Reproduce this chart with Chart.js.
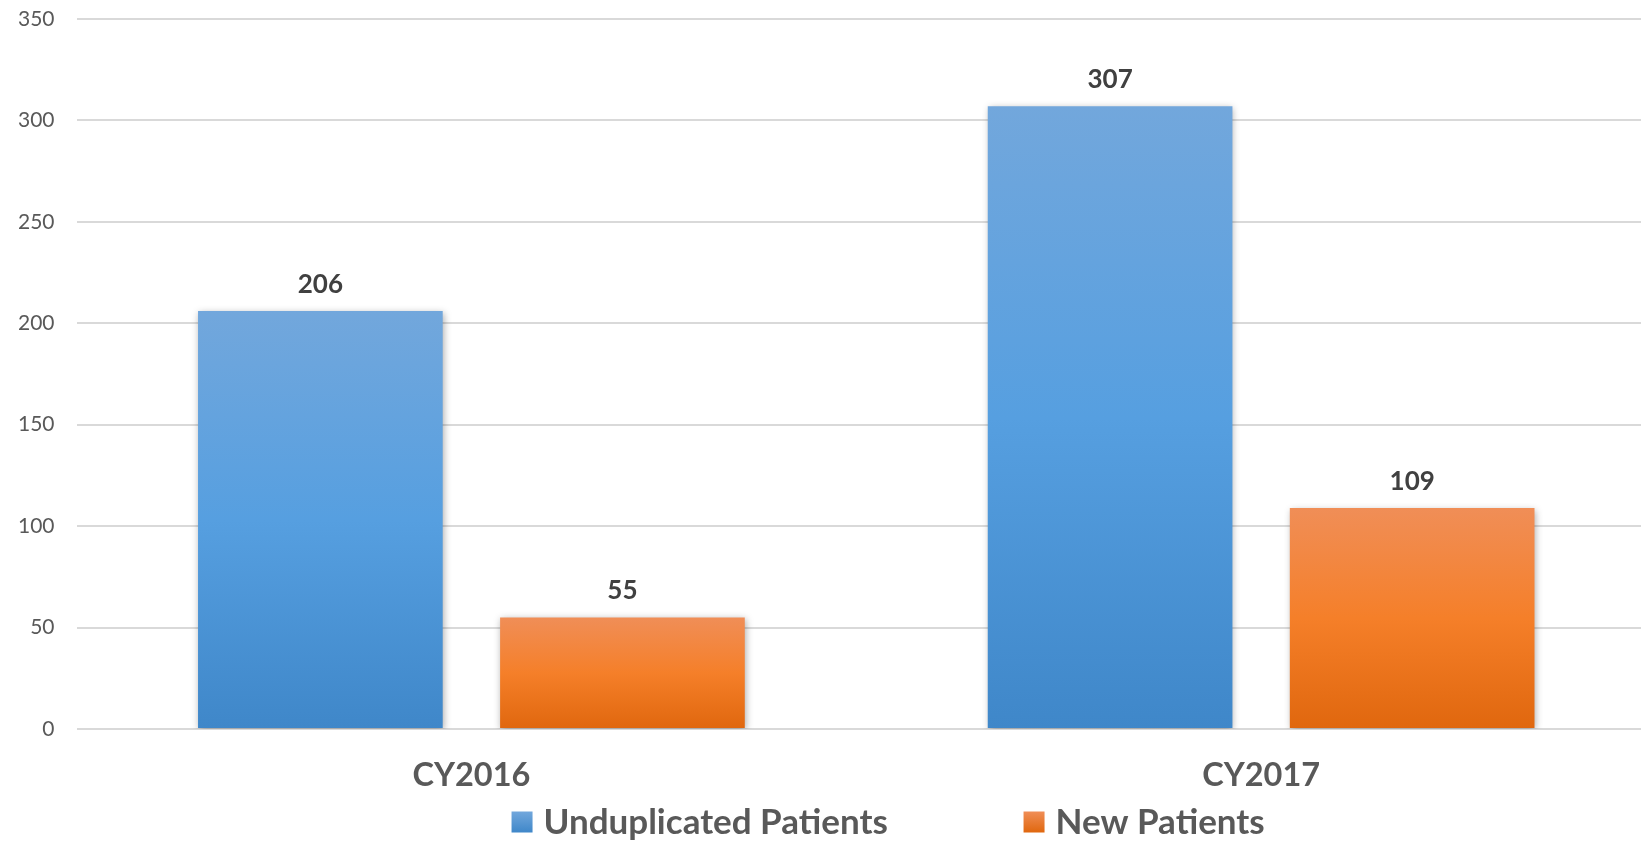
<!DOCTYPE html>
<html>
<head>
<meta charset="utf-8">
<title>Patients CY2016 vs CY2017</title>
<script src="https://cdn.jsdelivr.net/npm/chart.js@4/dist/chart.umd.min.js"></script>
<style>
  html, body { margin: 0; padding: 0; background: #fff; overflow: hidden; }
  #wrap { width: 1656px; height: 841px; }
</style>
</head>
<body>
<div id="wrap"><canvas id="chart" width="1656" height="841"></canvas></div>
<script>
const years = ["CY2016", "CY2017"];
const unduplicatedPatients = [206, 307];
const newPatients = [55, 109];
const yTicks = [0, 50, 100, 150, 200, 250, 300, 350];

const blueStops = ["#72a7dc", "#569fe0", "#3f87c9"];
const orangeStops = ["#f08e57", "#f57f29", "#e0670e"];

function barFill(stops) {
  return (context) => {
    const chart = context.chart;
    const yScale = chart.scales.y;
    if (!chart.chartArea || !yScale || context.raw == null) return stops[1];
    const top = yScale.getPixelForValue(context.raw);
    const bottom = yScale.getPixelForValue(0);
    const g = chart.ctx.createLinearGradient(0, top, 0, bottom);
    g.addColorStop(0, stops[0]);
    g.addColorStop(0.5, stops[1]);
    g.addColorStop(1, stops[2]);
    return g;
  };
}

// soft shadow under the bars plus the value labels above them
const barExtras = {
  id: "barExtras",
  beforeDatasetsDraw(chart) {
    const ctx = chart.ctx;
    ctx.save();
    ctx.shadowColor = "rgba(0, 0, 0, 0.32)";
    ctx.shadowBlur = 7;
    ctx.shadowOffsetX = 1;
    ctx.shadowOffsetY = 2;
  },
  afterDatasetsDraw(chart) {
    const ctx = chart.ctx;
    ctx.restore();
    ctx.save();
    ctx.font = "bold 26px Lato";
    ctx.fillStyle = "#404040";
    ctx.textAlign = "center";
    ctx.textBaseline = "alphabetic";
    chart.data.datasets.forEach((ds, i) => {
      chart.getDatasetMeta(i).data.forEach((bar, j) => {
        ctx.fillText(String(ds.data[j]), bar.x, bar.y - 18);
      });
    });
    ctx.restore();
  }
};

// legend drawn by hand so the gap between the two entries can be wide
const wideLegend = {
  id: "wideLegend",
  afterDraw(chart) {
    const ctx = chart.ctx;
    const boxSize = 21;
    const starts = [chart.chartArea.left + 435, chart.chartArea.left + 947];
    const midY = 822;
    ctx.save();
    ctx.font = "bold 35px Lato";
    ctx.textBaseline = "middle";
    ctx.textAlign = "left";
    chart.data.datasets.forEach((ds, i) => {
      const x = starts[i];
      const g = ctx.createLinearGradient(0, midY - boxSize / 2, 0, midY + boxSize / 2);
      g.addColorStop(0, ds.stops[0]);
      g.addColorStop(1, ds.stops[2]);
      ctx.fillStyle = g;
      ctx.fillRect(x, midY - boxSize / 2, boxSize, boxSize);
      ctx.fillStyle = "#595959";
      ctx.fillText(ds.label, x + boxSize + 11, midY + 1);
    });
    ctx.restore();
  }
};

new Chart(document.getElementById("chart"), {
  type: "bar",
  data: {
    labels: years,
    datasets: [
      {
        label: "Unduplicated Patients",
        data: unduplicatedPatients,
        stops: blueStops,
        backgroundColor: barFill(blueStops),
        categoryPercentage: 0.765,
        barPercentage: 0.81
      },
      {
        label: "New Patients",
        data: newPatients,
        stops: orangeStops,
        backgroundColor: barFill(orangeStops),
        categoryPercentage: 0.765,
        barPercentage: 0.81
      }
    ]
  },
  options: {
    responsive: false,
    animation: false,
    devicePixelRatio: 1,
    layout: { padding: { top: 19, left: 12, right: 0, bottom: 19 } },
    plugins: {
      legend: { display: false },
      tooltip: { enabled: false }
    },
    scales: {
      x: {
        grid: { display: false, drawTicks: false },
        border: { display: false },
        ticks: {
          padding: 27,
          color: "#595959",
          font: { family: "Lato", size: 32.5, weight: "bold" }
        }
      },
      y: {
        min: 0,
        max: 350,
        afterBuildTicks(axis) {
          axis.ticks = yTicks.map((v) => ({ value: v }));
        },
        grid: { color: "#d9d9d9", lineWidth: 2, drawTicks: true, tickLength: 16, tickColor: "rgba(0,0,0,0)" },
        border: { display: false },
        ticks: {
          padding: 6,
          color: "#595959",
          font: { family: "Lato", size: 21 }
        }
      }
    }
  },
  plugins: [barExtras, wideLegend]
});
</script>
</body>
</html>
